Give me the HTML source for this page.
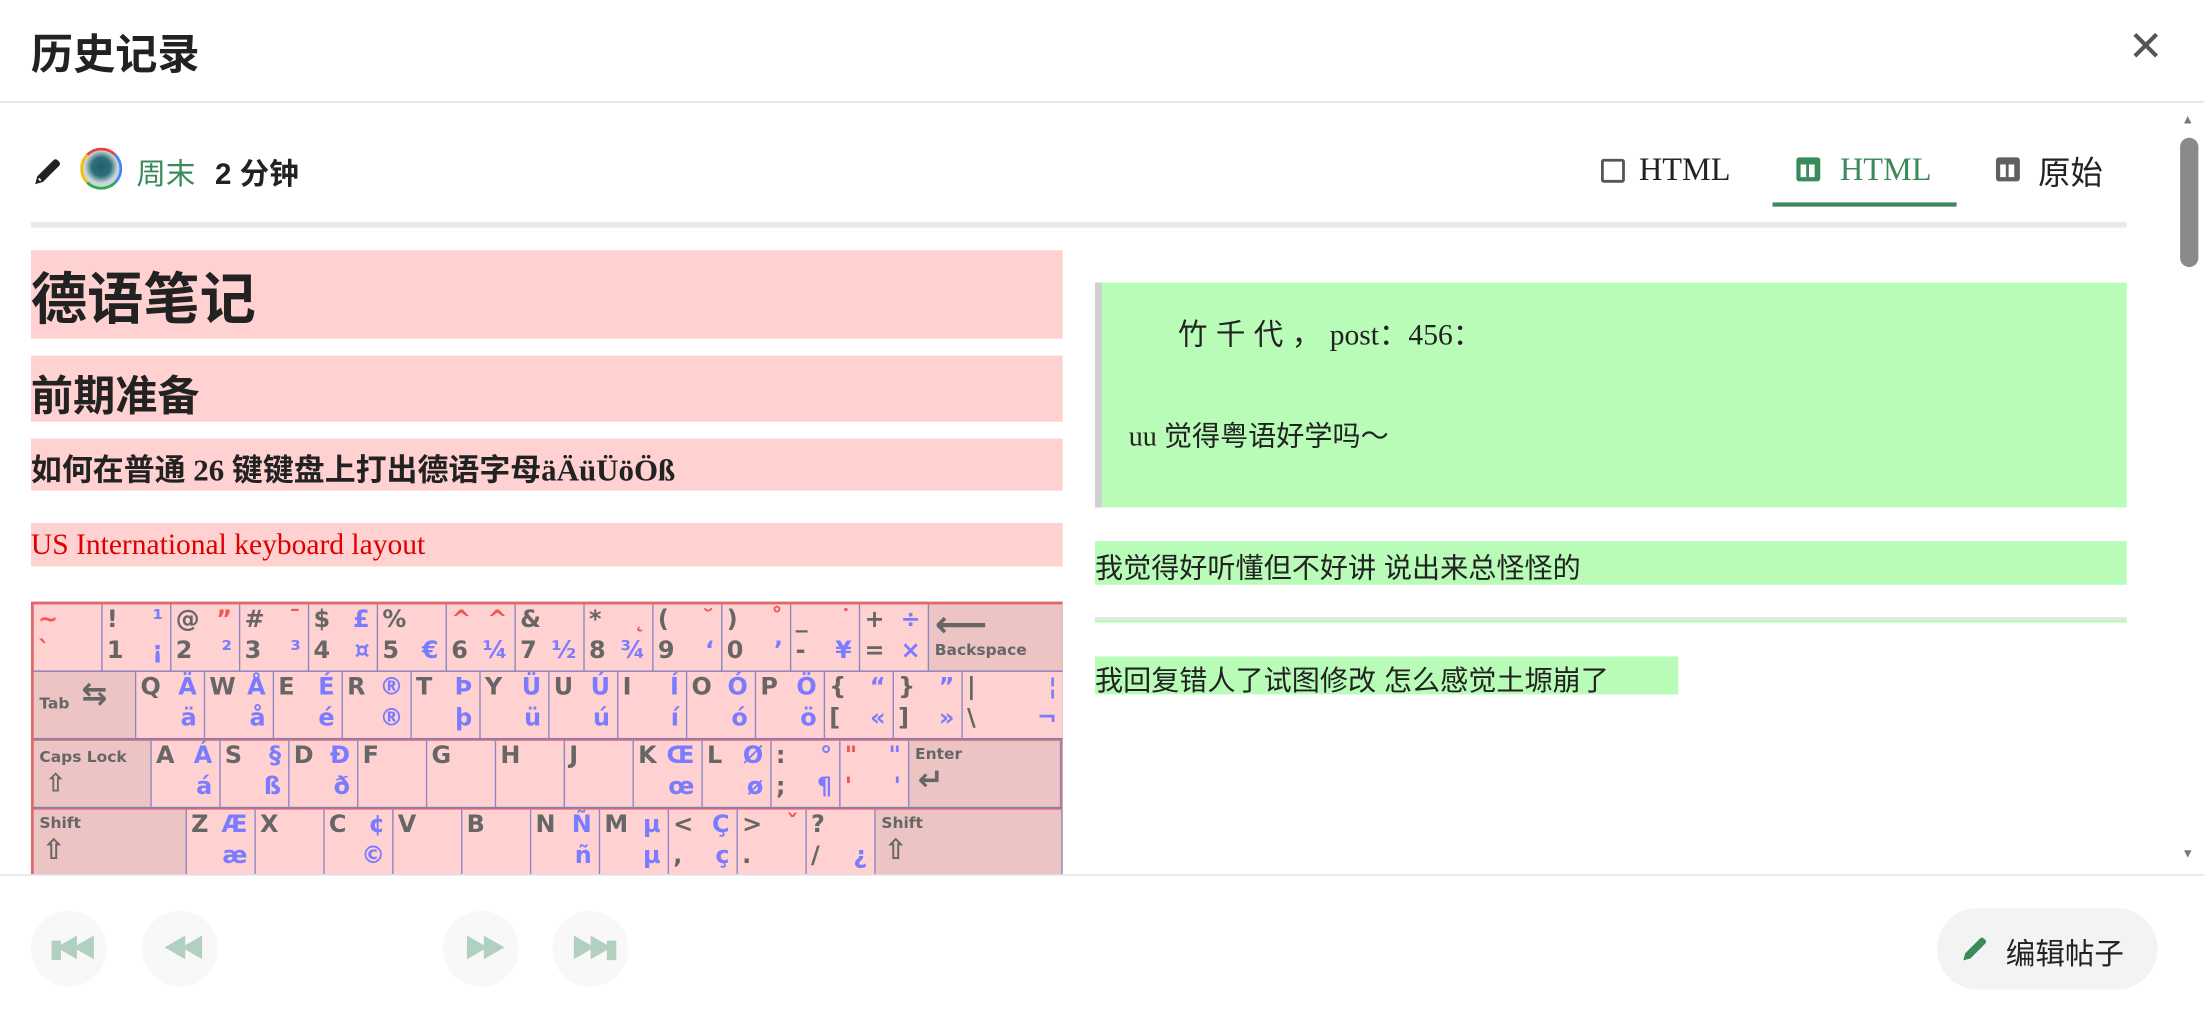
<!DOCTYPE html>
<html><head><meta charset="utf-8">
<style>
html,body{margin:0;padding:0;background:#fff;overflow:hidden;width:2204px;height:1020px}
#w{position:absolute;left:0;top:0;width:1568px;height:726px;transform:scale(1.40561);transform-origin:0 0;font-family:"Liberation Sans","Noto Sans CJK SC",sans-serif;color:#222}
.a{position:absolute}
.serif{font-family:"Liberation Serif","Noto Sans CJK SC",serif}
.kb{position:absolute;left:22px;top:428px;width:734px;height:194px;background:#e06868;overflow:hidden}
.row{position:absolute;left:2px;height:48px;display:flex;background:#8080c0}
.k{position:relative;height:47px;background:#ffd1d1;border-right:1px solid #8a86c8;box-sizing:border-box;font-family:"DejaVu Sans",sans-serif;font-weight:bold;font-size:17px;color:#666;overflow:hidden}
.k.s{background:#edc4c4;font-size:11px}
.k b{position:absolute;font-weight:bold}
.tl{left:3px;top:1px}.bl{left:3px;top:23px}.tr{right:5px;top:1px;color:#7b7bff}.br{right:5px;top:23px;color:#7b7bff}
.red{color:#f05555!important}
.btn{position:absolute;top:648px;width:54px;height:54px;border-radius:50%;background:#f8f8f8;color:#b2d0c0;font-size:18px;text-align:center;line-height:54px;letter-spacing:-6px}
</style></head><body><div id="w">
<div class="a" style="left:22px;top:14px;font-size:30px;font-weight:bold;">历史记录</div>
<div class="a" style="left:1514px;top:16px;font-size:30px;color:#555;">✕</div>
<div class="a" style="left:0;top:72px;width:1568px;height:1px;background:#ddd"></div>
<div class="a" style="left:1551px;top:98px;width:13px;height:92px;border-radius:7px;background:#8a8a8a"></div>
<div class="a" style="left:1552px;top:80px;font-size:9px;color:#777">▲</div>
<div class="a" style="left:1552px;top:602px;font-size:9px;color:#777">▼</div>
<svg class="a" style="left:22px;top:110px" width="24" height="24" viewBox="0 0 24 24"><path d="M3 21l1.5-5.5L16 4a2 2 0 0 1 3 0l1 1a2 2 0 0 1 0 3L8.5 19.5z" fill="#222"/><path d="M5.5 17l1.5 1.5" stroke="#fff" stroke-width="1.2"/></svg>
<div class="a" style="left:57px;top:105px;width:30px;height:30px;border-radius:50%;border:2px solid #4285f4;border-left-color:#fbbc05;border-bottom-color:#34a853;border-top-color:#ea4335;background:radial-gradient(circle at 50% 45%,#245c6a 0,#2f6f7c 35%,#c8d6d8 60%);box-sizing:border-box"></div>
<div class="a" style="left:97px;top:108px;font-size:21px;color:#3b8a5a">周末</div>
<div class="a" style="left:153px;top:108px;font-size:21px;font-weight:bold">2 分钟</div>
<div class="a" style="left:1139px;top:113px;width:13px;height:13px;border:2px solid #555;border-radius:2px"></div>
<div class="a serif" style="left:1166px;top:108px;font-size:23px;color:#222">HTML</div>
<div class="a" style="left:1278px;top:112px;width:17px;height:17px;background:#3b8a5a;border-radius:2px"><div style="position:absolute;left:3px;top:5px;width:4px;height:9px;background:#fff"></div><div style="position:absolute;left:9px;top:5px;width:4px;height:9px;background:#fff"></div></div>
<div class="a serif" style="left:1309px;top:108px;font-size:23px;color:#3b8a5a">HTML</div>
<div class="a" style="left:1261px;top:144px;width:131px;height:3px;background:#3b8a5a"></div>
<div class="a" style="left:1420px;top:112px;width:17px;height:17px;background:#606060;border-radius:2px"><div style="position:absolute;left:3px;top:5px;width:4px;height:9px;background:#fff"></div><div style="position:absolute;left:9px;top:5px;width:4px;height:9px;background:#fff"></div></div>
<div class="a" style="left:1450px;top:104px;font-size:23px;color:#222">原始</div>
<div class="a" style="left:22px;top:158px;width:1491px;height:4px;background:#e9e9e9"></div>
<div class="a" style="left:22px;top:178px;width:734px;height:63px;background:#ffd1d1"><div style="position:absolute;left:0;top:3px;font-size:40px;font-weight:bold">德语笔记</div></div>
<div class="a" style="left:22px;top:253px;width:734px;height:47px;background:#ffd1d1"><div style="position:absolute;left:0;top:4px;font-size:30px;font-weight:bold">前期准备</div></div>
<div class="a" style="left:22px;top:312px;width:734px;height:37px;background:#ffd1d1"><div style="position:absolute;left:0;top:5px;font-size:22px;font-weight:bold;font-family:'Liberation Serif','Noto Sans CJK SC',serif">如何在普通 26 键键盘上打出德语字母äÄüÜöÖß</div></div>
<div class="a" style="left:22px;top:372px;width:734px;height:31px;background:#ffd1d1"><div class="serif" style="position:absolute;left:0;top:3px;font-size:21px;color:#d00">US International keyboard layout</div></div>
<div class="kb">
<div class="row" style="top:2px">
<div class="k" style="width:49px"><b class="tl red">~</b><b class="bl red">`</b></div>
<div class="k" style="width:49px"><b class="tl">!</b><b class="bl">1</b><b class="tr">¹</b><b class="br">¡</b></div>
<div class="k" style="width:49px"><b class="tl">@</b><b class="bl">2</b><b class="tr red">”</b><b class="br">²</b></div>
<div class="k" style="width:49px"><b class="tl">#</b><b class="bl">3</b><b class="tr red">¯</b><b class="br">³</b></div>
<div class="k" style="width:49px"><b class="tl">$</b><b class="bl">4</b><b class="tr">£</b><b class="br">¤</b></div>
<div class="k" style="width:49px"><b class="tl">%</b><b class="bl">5</b><b class="br">€</b></div>
<div class="k" style="width:49px"><b class="tl red">^</b><b class="bl">6</b><b class="tr red">^</b><b class="br">¼</b></div>
<div class="k" style="width:49px"><b class="tl">&amp;</b><b class="bl">7</b><b class="br">½</b></div>
<div class="k" style="width:49px"><b class="tl">*</b><b class="bl">8</b><b class="tr red">˛</b><b class="br">¾</b></div>
<div class="k" style="width:49px"><b class="tl">(</b><b class="bl">9</b><b class="tr red">˘</b><b class="br">‘</b></div>
<div class="k" style="width:49px"><b class="tl">)</b><b class="bl">0</b><b class="tr red">˚</b><b class="br">’</b></div>
<div class="k" style="width:49px"><b class="tl">_</b><b class="bl">-</b><b class="tr red">˙</b><b class="br">¥</b></div>
<div class="k" style="width:49px"><b class="tl">+</b><b class="bl">=</b><b class="tr">÷</b><b class="br">×</b></div>
<div class="k s" style="width:96px"><b style="left:4px;top:0;font-size:26px">⟵</b><b style="left:4px;top:26px">Backspace</b></div>
</div>
<div class="row" style="top:50px">
<div class="k s" style="width:73px"><b style="left:4px;top:16px">Tab</b><b style="left:34px;top:4px;font-size:22px">⇆</b></div>
<div class="k" style="width:49px"><b class="tl">Q</b><b class="tr">Ä</b><b class="br">ä</b></div>
<div class="k" style="width:49px"><b class="tl">W</b><b class="tr">Å</b><b class="br">å</b></div>
<div class="k" style="width:49px"><b class="tl">E</b><b class="tr">É</b><b class="br">é</b></div>
<div class="k" style="width:49px"><b class="tl">R</b><b class="tr">®</b><b class="br">®</b></div>
<div class="k" style="width:49px"><b class="tl">T</b><b class="tr">Þ</b><b class="br">þ</b></div>
<div class="k" style="width:49px"><b class="tl">Y</b><b class="tr">Ü</b><b class="br">ü</b></div>
<div class="k" style="width:49px"><b class="tl">U</b><b class="tr">Ú</b><b class="br">ú</b></div>
<div class="k" style="width:49px"><b class="tl">I</b><b class="tr">Í</b><b class="br">í</b></div>
<div class="k" style="width:49px"><b class="tl">O</b><b class="tr">Ó</b><b class="br">ó</b></div>
<div class="k" style="width:49px"><b class="tl">P</b><b class="tr">Ö</b><b class="br">ö</b></div>
<div class="k" style="width:49px"><b class="tl">{</b><b class="bl">[</b><b class="tr">“</b><b class="br">«</b></div>
<div class="k" style="width:49px"><b class="tl">}</b><b class="bl">]</b><b class="tr">”</b><b class="br">»</b></div>
<div class="k" style="width:73px"><b class="tl">|</b><b class="bl">\</b><b class="tr">¦</b><b class="br">¬</b></div>
</div>
<div class="row" style="top:99px">
<div class="k s" style="width:84px"><b style="left:4px;top:5px">Caps Lock</b><b style="left:8px;top:20px;font-size:18px">⇧</b></div>
<div class="k" style="width:49px"><b class="tl">A</b><b class="tr">Á</b><b class="br">á</b></div>
<div class="k" style="width:49px"><b class="tl">S</b><b class="tr">§</b><b class="br">ß</b></div>
<div class="k" style="width:49px"><b class="tl">D</b><b class="tr">Ð</b><b class="br">ð</b></div>
<div class="k" style="width:49px"><b class="tl">F</b></div>
<div class="k" style="width:49px"><b class="tl">G</b></div>
<div class="k" style="width:49px"><b class="tl">H</b></div>
<div class="k" style="width:49px"><b class="tl">J</b></div>
<div class="k" style="width:49px"><b class="tl">K</b><b class="tr">Œ</b><b class="br">œ</b></div>
<div class="k" style="width:49px"><b class="tl">L</b><b class="tr">Ø</b><b class="br">ø</b></div>
<div class="k" style="width:49px"><b class="tl">:</b><b class="bl">;</b><b class="tr">°</b><b class="br">¶</b></div>
<div class="k" style="width:49px"><b class="tl red">"</b><b class="bl red">'</b><b class="tr">"</b><b class="br">'</b></div>
<div class="k s" style="width:108px"><b style="left:4px;top:3px">Enter</b><b style="left:6px;top:16px;font-size:22px">↵</b></div>
</div>
<div class="row" style="top:148px">
<div class="k s" style="width:109px"><b style="left:4px;top:3px">Shift</b><b style="left:6px;top:16px;font-size:20px">⇧</b></div>
<div class="k" style="width:49px"><b class="tl">Z</b><b class="tr">Æ</b><b class="br">æ</b></div>
<div class="k" style="width:49px"><b class="tl">X</b></div>
<div class="k" style="width:49px"><b class="tl">C</b><b class="tr">¢</b><b class="br">©</b></div>
<div class="k" style="width:49px"><b class="tl">V</b></div>
<div class="k" style="width:49px"><b class="tl">B</b></div>
<div class="k" style="width:49px"><b class="tl">N</b><b class="tr">Ñ</b><b class="br">ñ</b></div>
<div class="k" style="width:49px"><b class="tl">M</b><b class="tr">µ</b><b class="br">µ</b></div>
<div class="k" style="width:49px"><b class="tl">&lt;</b><b class="bl">,</b><b class="tr">Ç</b><b class="br">ç</b></div>
<div class="k" style="width:49px"><b class="tl">&gt;</b><b class="bl">.</b><b class="tr red">ˇ</b></div>
<div class="k" style="width:49px"><b class="tl">?</b><b class="bl">/</b><b class="br">¿</b></div>
<div class="k s" style="width:133px"><b style="left:4px;top:3px">Shift</b><b style="left:6px;top:16px;font-size:20px">⇧</b></div>
</div>
</div>
<div class="a" style="left:779px;top:201px;width:734px;height:160px;background:#b8fcb8;border-left:5px solid #d0d0d0;box-sizing:border-box"></div>
<div class="a" style="left:838px;top:222px;font-size:21px;letter-spacing:6px;font-family:'Liberation Serif','Noto Sans CJK SC',serif">竹千代，<span style="letter-spacing:0">post：456：</span></div>
<div class="a" style="left:803px;top:294px;font-size:20px;font-family:'Liberation Serif','Noto Sans CJK SC',serif">uu 觉得粤语好学吗～</div>
<div class="a" style="left:779px;top:385px;width:734px;height:31px;background:#b8fcb8"></div>
<div class="a" style="left:779px;top:388px;font-size:20px">我觉得好听懂但不好讲 说出来总怪怪的</div>
<div class="a" style="left:779px;top:439px;width:734px;height:2px;background:#e6e6e6"></div>
<div class="a" style="left:779px;top:441px;width:734px;height:2px;background:#b8fcb8"></div>
<div class="a" style="left:779px;top:467px;width:415px;height:27px;background:#b8fcb8"></div>
<div class="a" style="left:779px;top:468px;font-size:20px">我回复错人了试图修改 怎么感觉土塬崩了</div>
<div class="a" style="left:0;top:622px;width:1568px;height:104px;background:#fff;border-top:1px solid #e2e2e2"></div>
<div class="btn" style="left:22px">▮◀◀</div>
<div class="btn" style="left:101px">◀◀</div>
<div class="btn" style="left:315px">▶▶</div>
<div class="btn" style="left:393px">▶▶▮</div>
<div class="a" style="left:1378px;top:646px;width:157px;height:58px;border-radius:29px;background:#f3f3f3"></div>
<svg class="a" style="left:1394px;top:664px" width="22" height="22" viewBox="0 0 24 24"><path d="M3 21l1.5-5.5L16 4a2 2 0 0 1 3 0l1 1a2 2 0 0 1 0 3L8.5 19.5z" fill="#3b8a5a"/></svg>
<div class="a" style="left:1427px;top:663px;font-size:21px;color:#222">编辑帖子</div>
</div></body></html>
